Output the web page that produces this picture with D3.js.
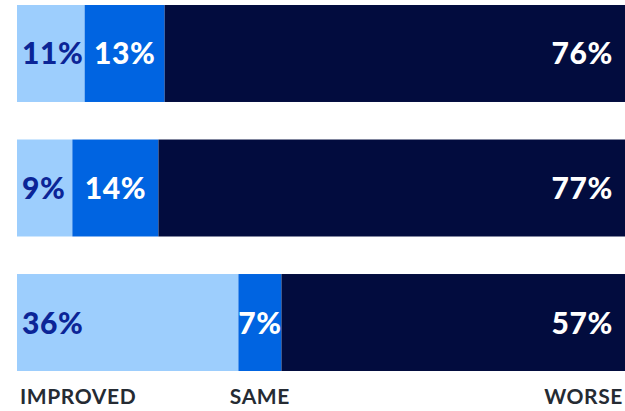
<!DOCTYPE html>
<html>
<head>
<meta charset="utf-8">
<script src="https://cdn.jsdelivr.net/npm/d3@7/dist/d3.min.js"></script>
<style>
  html, body { margin: 0; padding: 0; background: #ffffff; }
  svg { display: block; }
</style>
</head>
<body>
<svg id="chart" width="625" height="411"></svg>
<script>
// Survey rows and their shares (percent)
const rows = ["row1", "row2", "row3"];
const improved = [11, 9, 36];
const same = [13, 14, 7];
const worse = [76, 77, 57];
const categories = ["IMPROVED", "SAME", "WORSE"];

const colors = ["#9dcefd", "#0064e1", "#020c3e"];
const labelColors = ["#0b2597", "#ffffff", "#ffffff"];

const svg = d3.select("#chart");

const x = d3.scaleLinear().domain([0, 100]).range([17, 632]);
const y = d3.scaleBand().domain(rows).range([5, 371]).paddingInner(0.279);

const table = rows.map((r, i) => ({ row: r, IMPROVED: improved[i], SAME: same[i], WORSE: worse[i] }));
const stacked = d3.stack().keys(categories)(table);

const layers = svg.append("g").selectAll("g")
  .data(stacked)
  .join("g")
  .attr("fill", (d, i) => colors[i]);

layers.selectAll("rect")
  .data(d => d)
  .join("rect")
  .attr("x", d => x(d[0]))
  .attr("y", d => y(d.data.row))
  .attr("width", d => x(d[1]) - x(d[0]))
  .attr("height", y.bandwidth());

// Value labels: first segment left aligned, middle centred, last right aligned
const font = "Lato, 'DejaVu Sans', sans-serif";
stacked.forEach((layer, k) => {
  svg.append("g").selectAll("text")
    .data(layer)
    .join("text")
    .attr("x", d => k === 0 ? x(d[0]) + 5 : k === 1 ? (x(d[0]) + x(d[1])) / 2 : 613)
    .attr("y", d => y(d.data.row) + y.bandwidth() / 2 + 11)
    .attr("text-anchor", k === 0 ? "start" : k === 1 ? "middle" : "end")
    .attr("fill", labelColors[k])
    .style("font-family", font)
    .style("font-weight", 900)
    .style("font-size", "30px")
    .style("letter-spacing", "0.6px")
    .text(d => (d[1] - d[0]) + "%");
});

// Category labels under the last bar, aligned with its segments
const last = table.length - 1;
svg.append("g").selectAll("text")
  .data(stacked)
  .join("text")
  .attr("x", (layer, k) => {
    const d = layer[last];
    return k === 0 ? x(d[0]) + 3 : k === 1 ? (x(d[0]) + x(d[1])) / 2 : 623;
  })
  .attr("y", 404)
  .attr("text-anchor", (layer, k) => k === 0 ? "start" : k === 1 ? "middle" : "end")
  .attr("fill", "#252b33")
  .style("font-family", font)
  .style("font-weight", 700)
  .style("font-size", "21px")
  .style("letter-spacing", "0.6px")
  .text(layer => layer.key);
</script>
</body>
</html>
